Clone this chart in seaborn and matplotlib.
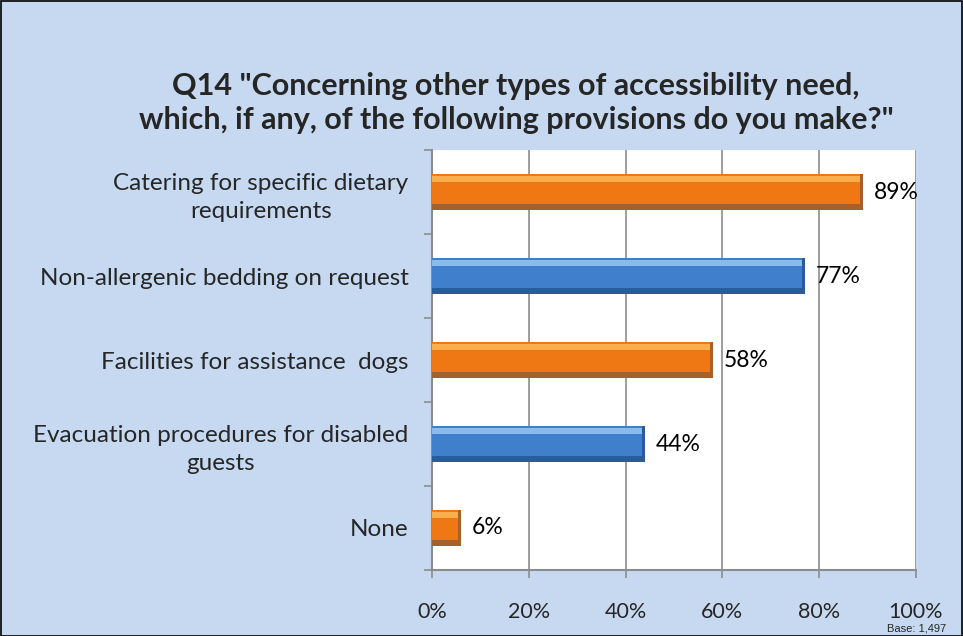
import matplotlib
matplotlib.use("Agg")
import matplotlib.pyplot as plt
from matplotlib.patches import Rectangle
import seaborn as sns

sns.set_style("white")
plt.rcParams["font.family"] = ["Lato", "DejaVu Sans"]

categories = [
    "Catering for specific dietary\nrequirements",
    "Non-allergenic bedding on request",
    "Facilities for assistance  dogs",
    "Evacuation procedures for disabled\nguests",
    "None",
]
values = [89, 77, 58, 44, 6]
bar_colors = ["#F07814", "#3F7FCB", "#F07814", "#3F7FCB", "#F07814"]
edge_colors = ["#A8602A", "#2C5C96", "#A8602A", "#2C5C96", "#A8602A"]
light_colors = ["#FBAE4C", "#86BCF0", "#FBAE4C", "#86BCF0", "#FBAE4C"]
xticks = [0, 20, 40, 60, 80, 100]

bg = "#C6D9F0"
fig = plt.figure(figsize=(9.63, 6.36), dpi=100, facecolor=bg)
fig.patches.append(Rectangle((0.001, 0.0), 0.998, 0.998, transform=fig.transFigure,
                             fill=False, edgecolor="black", linewidth=1.2))
ax = fig.add_axes([432 / 963, 66 / 636, 484 / 963, 420 / 636])
ax.set_facecolor("white")

sns.barplot(x=values, y=categories, hue=categories, palette=bar_colors,
            saturation=1, legend=False, orient="h", width=0.42, ax=ax,
            zorder=3, linewidth=0)

# bevel look: darker rim at bottom/right and a light stripe near the top
for p, ec, lc in zip(ax.patches, edge_colors, light_colors):
    x0, y0 = p.get_x(), p.get_y()
    w, h = p.get_width(), p.get_height()
    ax.add_patch(Rectangle((x0, y0 + h * 0.84), w, h * 0.16, facecolor=ec,
                           edgecolor="none", zorder=4))
    ax.add_patch(Rectangle((x0 + w - 0.6, y0), 0.6, h, facecolor=ec,
                           edgecolor="none", zorder=4))
    ax.add_patch(Rectangle((x0, y0 + h * 0.06), w - 0.6, h * 0.16, facecolor=lc,
                           edgecolor="none", zorder=4))

for i, v in enumerate(values):
    ax.text(v + 2.2, i, f"{v}%", va="center", ha="left", fontsize=16.5,
            color="black", zorder=5)

ax.set_xlim(0, 100)
ax.set_ylim(4.5, -0.5)
ax.set_xticks(xticks)
ax.set_xticklabels([f"{t}%" for t in xticks], fontsize=15.5)
ax.set_yticks(range(len(categories)))
ax.set_yticklabels(categories, fontsize=17.5, multialignment="center",
                   linespacing=1.4)
ax.set_yticks([i - 0.5 for i in range(len(categories) + 1)], minor=True)
ax.tick_params(axis="y", which="major", length=0, pad=17)
ax.tick_params(axis="y", which="minor", length=6, width=1.2, color="#8C8C8C", left=True)
ax.tick_params(axis="x", which="major", length=6, width=1.2, color="#8C8C8C",
               bottom=True, pad=17)
ax.xaxis.grid(True, color="#8C8C8C", linewidth=1.2, zorder=0)
ax.set_axisbelow(True)
ax.set_xlabel("")
ax.set_ylabel("")
for side in ["top", "right"]:
    ax.spines[side].set_visible(False)
for side in ["left", "bottom"]:
    ax.spines[side].set_color("#8C8C8C")
    ax.spines[side].set_linewidth(1.5)

fig.text(0.536, 0.838, 'Q14 "Concerning other types of accessibility need,\n'
         'which, if any, of the following provisions do you make?"',
         ha="center", va="center", fontsize=22, fontweight="bold",
         linespacing=1.3)
fig.text(0.982, 0.004, "Base: 1,497", ha="right", va="bottom", fontsize=8,
         family=["Liberation Sans", "DejaVu Sans"])

fig.savefig("out.png", dpi=100, facecolor=bg)
